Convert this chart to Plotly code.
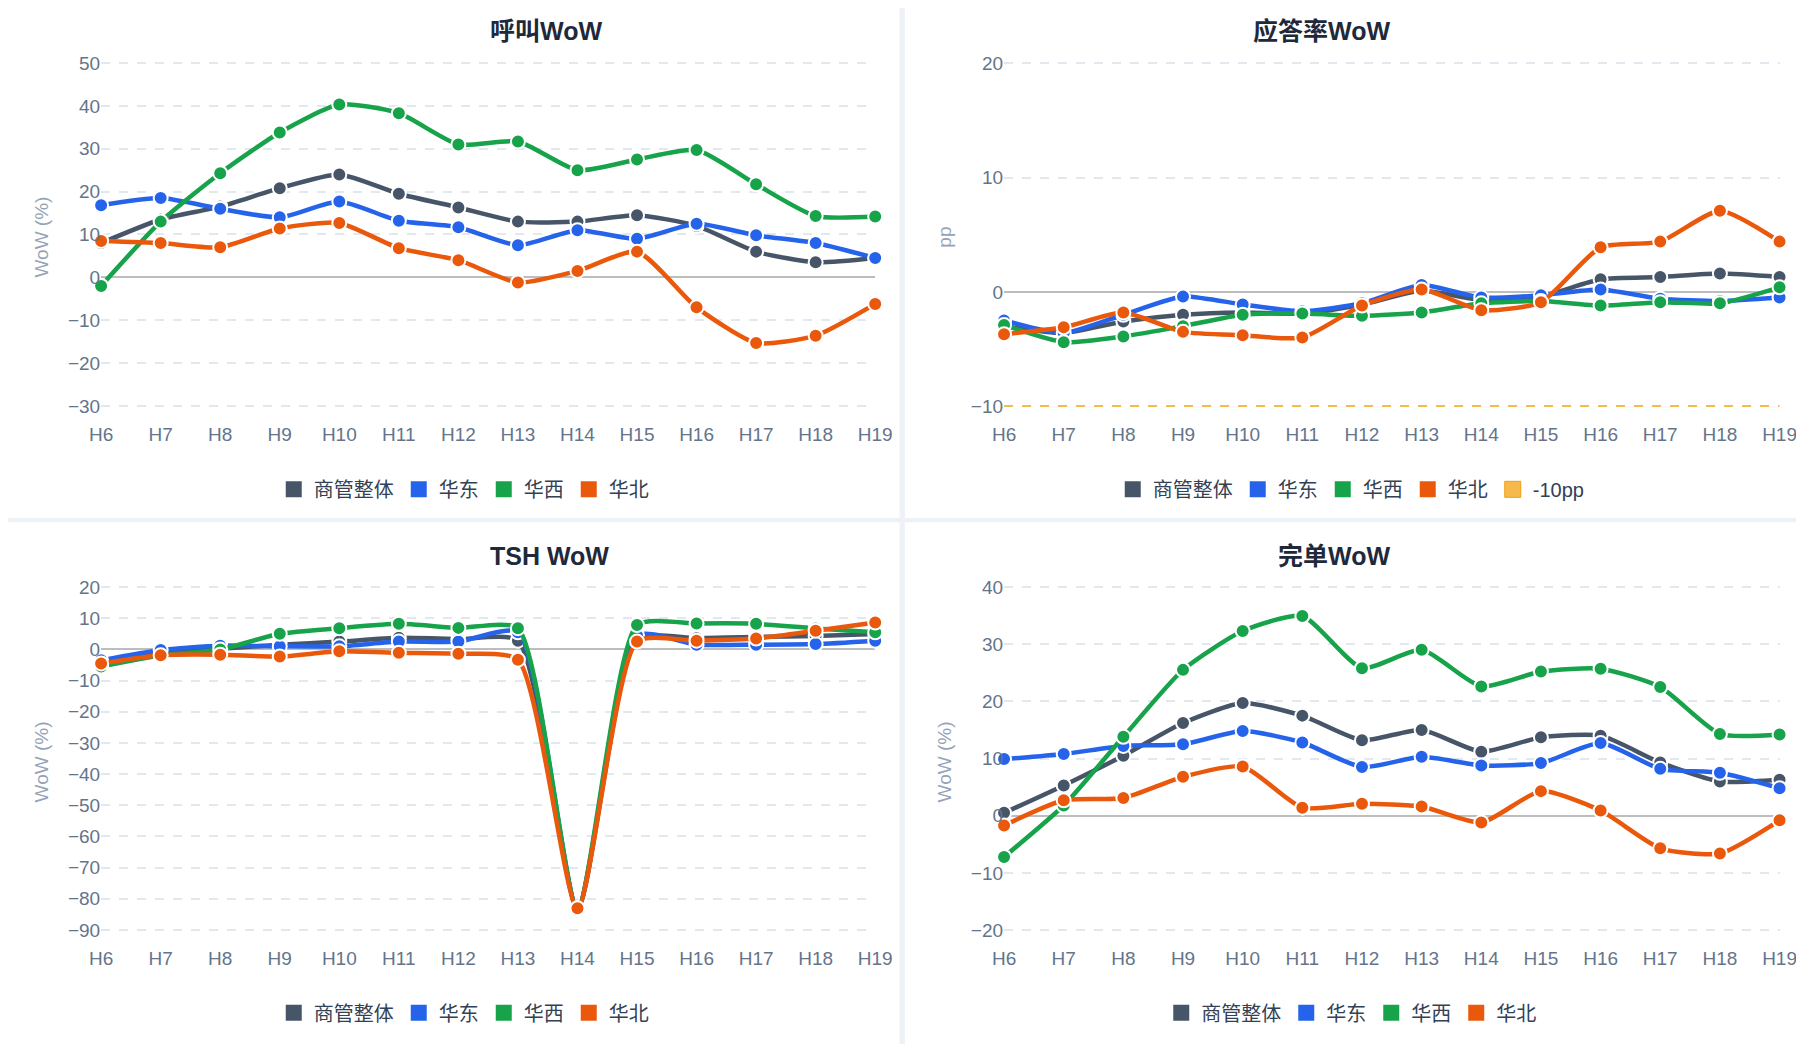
import plotly.graph_objects as go

hours = ['H6', 'H7', 'H8', 'H9', 'H10', 'H11', 'H12', 'H13', 'H14', 'H15', 'H16', 'H17', 'H18', 'H19']
series_names = ['商管整体', '华东', '华西', '华北']
colors = ['#475569', '#2563eb', '#16a34a', '#ea580c']

call_wow = [
    [8, 13.5, 16.5, 20.8, 24, 19.5, 16.3, 13, 13, 14.5, 12, 6, 3.5, 4.5],
    [16.8, 18.5, 16, 14, 17.7, 13.2, 11.7, 7.5, 11, 9, 12.5, 9.8, 8, 4.5],
    [-2, 13, 24.3, 33.8, 40.3, 38.3, 31, 31.7, 25, 27.5, 29.7, 21.7, 14.3, 14.2],
    [8.5, 8, 7, 11.4, 12.7, 6.8, 4, -1.2, 1.5, 6, -7, -15.3, -13.6, -6.2],
]
answer_wow = [
    [-3, -3.6, -2.6, -2, -1.8, -1.9, -1.1, 0.1, -0.7, -0.4, 1.1, 1.3, 1.6, 1.3],
    [-2.5, -3.6, -2, -0.4, -1.1, -1.7, -1, 0.6, -0.5, -0.3, 0.2, -0.6, -0.8, -0.5],
    [-2.9, -4.4, -3.9, -3, -2, -1.9, -2.1, -1.8, -1, -0.8, -1.2, -0.9, -1, 0.4],
    [-3.7, -3.1, -1.8, -3.5, -3.8, -4, -1.2, 0.2, -1.6, -0.9, 3.9, 4.4, 7.1, 4.4],
]
threshold = [-10] * len(hours)
tsh_wow = [
    [-4.6, -1.3, 0.2, 1.5, 2.5, 3.7, 3.3, 2.8, -83, 3.3, 3.6, 4, 4.3, 4.9],
    [-3.5, -0.2, 1.2, 1, 1, 2.5, 2.5, 5.5, -83, 4.5, 1.5, 1.5, 1.7, 2.8],
    [-5.5, -2, 0, 5, 6.8, 8.2, 6.9, 6.8, -83, 7.8, 8.3, 8.2, 6.7, 5.5],
    [-4.5, -1.9, -1.7, -2.3, -0.6, -1.1, -1.4, -3.3, -83, 2.5, 2.8, 3.5, 6, 8.6],
]
done_wow = [
    [0.5, 5.3, 10.5, 16.2, 19.7, 17.5, 13.2, 15, 11.2, 13.7, 14, 9.3, 6, 6.3],
    [9.9, 10.8, 12.2, 12.5, 14.8, 12.8, 8.5, 10.3, 8.8, 9.2, 12.7, 8.2, 7.5, 4.8],
    [-7.2, 1.8, 13.8, 25.5, 32.3, 34.9, 25.8, 29, 22.6, 25.2, 25.7, 22.5, 14.3, 14.2],
    [-1.7, 2.7, 3.1, 6.8, 8.6, 1.4, 2.1, 1.6, -1.2, 4.3, 0.9, -5.7, -6.6, -0.8],
]

LX = [0.0457, 0.4818]
RX = [0.5544, 0.9913]
TY = [0.6056, 0.9586]
BY = [0.1027, 0.4540]

panels = [
    # data, title, y title, x domain, y domain, y range, legend, legend pos, title y
    (call_wow, '呼叫WoW', 'WoW (%)', LX, TY, [-33.5, 52.3], 'legend', (0.25, 0.540), 0.980),
    (answer_wow, '应答率WoW', 'pp', RX, TY, [-11.3, 20.9], 'legend2', (0.75, 0.540), 0.980),
    (tsh_wow, 'TSH WoW', 'WoW (%)', LX, BY, [-94.8, 22.6], 'legend3', (0.25, 0.0376), 0.476),
    (done_wow, '完单WoW', 'WoW (%)', RX, BY, [-22.6, 41.4], 'legend4', (0.75, 0.0376), 0.476),
]

fig = go.Figure()
layout = {}
for i, (data, title, ytitle, xd, yd, yr, lg, lpos, ty) in enumerate(panels):
    n = '' if i == 0 else str(i + 1)
    xa, ya = 'x' + n, 'y' + n
    if i == 1:
        fig.add_trace(go.Scatter(x=hours, y=threshold, mode='lines', xaxis=xa, yaxis=ya,
                                 line=dict(color='#f6b94c', width=2, dash='dash'),
                                 showlegend=False, hoverinfo='skip'))
    for name, vals, c in zip(series_names, data, colors):
        fig.add_trace(go.Scatter(x=hours, y=vals, mode='lines+markers', name=name,
                                 xaxis=xa, yaxis=ya, showlegend=False, cliponaxis=False,
                                 line=dict(color=c, width=4.5, shape='spline', smoothing=0.6),
                                 marker=dict(color=c, size=14, line=dict(color='white', width=2))))
        fig.add_trace(go.Scatter(x=[None], y=[None], mode='markers', name=name, legend=lg,
                                 xaxis=xa, yaxis=ya,
                                 marker=dict(color=c, symbol='square', size=24)))
    if i == 1:
        fig.add_trace(go.Scatter(x=[None], y=[None], mode='markers', name='-10pp', legend=lg,
                                 xaxis=xa, yaxis=ya,
                                 marker=dict(color='#f6b94c', symbol='square', size=24,
                                             line=dict(color='#f59e0b', width=1))))
    layout['xaxis' + n] = dict(domain=xd, anchor=ya, range=[0, 13], showgrid=False,
                               showline=False, ticks='', tickfont=dict(size=19, color='#64748b'))
    layout['yaxis' + n] = dict(domain=yd, anchor=xa, range=yr, dtick=10,
                               gridcolor='#e2e8f0', griddash='dash', gridwidth=1.5,
                               zeroline=True, zerolinecolor='#bdbdbd', zerolinewidth=2,
                               tickfont=dict(size=19, color='#64748b'),
                               title=dict(text=ytitle, font=dict(size=19, color='#94a3b8'), standoff=14))
    layout[lg] = dict(x=lpos[0], y=lpos[1], xanchor='center', yanchor='middle', orientation='h',
                      font=dict(size=20, color='#334155'), bgcolor='rgba(0,0,0,0)',
                      itemwidth=30, tracegroupgap=0)
    fig.add_annotation(text='<b>%s</b>' % title, x=(xd[0] + xd[1]) / 2, y=ty,
                       xref='paper', yref='paper', showarrow=False, yanchor='middle',
                       font=dict(size=25, color='#1e293b'))

# white card backgrounds
for x0, x1, y0, y1 in [(-0.05, 0.4955, 0.5125, 1.05), (0.4985, 1.05, 0.5125, 1.05),
                       (-0.05, 0.4955, -0.05, 0.5085), (0.4985, 1.05, -0.05, 0.5085)]:
    fig.add_shape(type='rect', xref='paper', yref='paper', x0=x0, x1=x1, y0=y0, y1=y1,
                  fillcolor='white', line=dict(width=0), layer='below')

fig.update_layout(width=1804, height=1044, margin=dict(l=0, r=0, t=0, b=0),
                  paper_bgcolor='#eef2f7', plot_bgcolor='rgba(0,0,0,0)',
                  font=dict(family='"Liberation Sans", "Noto Sans CJK SC", sans-serif'), **layout)
fig.write_html('out.html')
